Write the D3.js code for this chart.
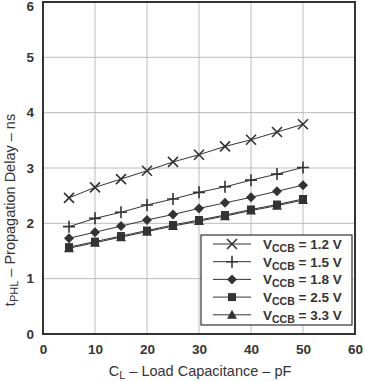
<!DOCTYPE html>
<html><head><meta charset="utf-8">
<script src="https://cdn.jsdelivr.net/npm/d3@7"></script>
<style>body{margin:0;background:#fff}svg{display:block}</style>
</head><body>
<script>
const capacitance = [5,10,15,20,25,30,35,40,45,50];
const v12 = [2.46,2.65,2.80,2.95,3.11,3.24,3.39,3.51,3.65,3.79];
const v15 = [1.94,2.09,2.20,2.33,2.44,2.56,2.66,2.78,2.89,3.01];
const v18 = [1.73,1.84,1.95,2.06,2.16,2.27,2.37,2.47,2.58,2.69];
const v25 = [1.57,1.67,1.77,1.87,1.97,2.06,2.15,2.25,2.34,2.44];
const v33 = [1.55,1.65,1.75,1.85,1.95,2.04,2.13,2.23,2.32,2.42];
const seriesNames = ["1.2","1.5","1.8","2.5","3.3"];
const seriesMarkers = ["x","plus","diamond","square","triangle"];
const xTicks = [0,10,20,30,40,50,60];
const yTicks = [0,1,2,3,4,5,6];

const W=365,H=381;
const m={l:43,r:10,t:2,b:47};
const svg=d3.select("body").append("svg").attr("width",W).attr("height",H);
const x=d3.scaleLinear().domain([0,60]).range([m.l,W-m.r]);
const y=d3.scaleLinear().domain([0,6]).range([H-m.b,m.t]);
const font="'Liberation Sans', Arial, sans-serif";
const dark="#333";

// grid
svg.append("g").selectAll("line.gx").data(xTicks).join("line")
  .attr("x1",d=>x(d)).attr("x2",d=>x(d)).attr("y1",y(0)).attr("y2",y(6))
  .attr("stroke","#bbb").attr("stroke-width",1);
svg.append("g").selectAll("line.gy").data(yTicks).join("line")
  .attr("y1",d=>y(d)).attr("y2",d=>y(d)).attr("x1",x(0)).attr("x2",x(60))
  .attr("stroke","#bbb").attr("stroke-width",1);

// axes labels
const xa=d3.axisBottom(x).tickValues(xTicks).tickFormat(d3.format("d")).tickSize(0).tickPadding(10);
const gx=svg.append("g").attr("transform",`translate(0,${y(0)})`).call(xa);
gx.select(".domain").remove();
gx.selectAll("text").attr("font-family",font).attr("font-weight","bold").attr("font-size",13.5).attr("fill",dark);
const ya=d3.axisLeft(y).tickValues(yTicks).tickFormat(d3.format("d")).tickSize(0).tickPadding(9);
const gy=svg.append("g").attr("transform",`translate(${x(0)},0)`).call(ya);
gy.select(".domain").remove();
gy.selectAll("text").attr("font-family",font).attr("font-weight","bold").attr("font-size",13.5).attr("fill",dark)
  .attr("y",d=>d===6?4:0);

// frame
svg.append("rect").attr("x",x(0)).attr("y",y(6)).attr("width",x(60)-x(0)).attr("height",y(0)-y(6))
  .attr("fill","none").attr("stroke",dark).attr("stroke-width",2);

// series
const allSeries=[v12,v15,v18,v25,v33];
function marker(g,type,cx,cy){
  const c=dark;
  if(type==="x"){
    const s=5;
    g.append("path").attr("d",`M${cx-s},${cy-s}L${cx+s},${cy+s}M${cx-s},${cy+s}L${cx+s},${cy-s}`).attr("stroke",c).attr("stroke-width",1.6).attr("fill","none");
  } else if(type==="plus"){
    const s=6;
    g.append("path").attr("d",`M${cx-s},${cy}L${cx+s},${cy}M${cx},${cy-s}L${cx},${cy+s}`).attr("stroke",c).attr("stroke-width",1.6).attr("fill","none");
  } else if(type==="diamond"){
    const s=5;
    g.append("path").attr("d",`M${cx},${cy-s}L${cx+s},${cy}L${cx},${cy+s}L${cx-s},${cy}Z`).attr("fill",c);
  } else if(type==="square"){
    const s=4;
    g.append("rect").attr("x",cx-s).attr("y",cy-s).attr("width",2*s).attr("height",2*s).attr("fill",c);
  } else {
    const s=5;
    g.append("path").attr("d",`M${cx},${cy-s}L${cx+s},${cy+s*0.8}L${cx-s},${cy+s*0.8}Z`).attr("fill",c);
  }
}
const line=d3.line().x((d,i)=>x(capacitance[i])).y(d=>y(d));
[4,3,2,1,0].forEach(k=>{
  const vals=allSeries[k];
  const g=svg.append("g");
  g.append("path").datum(vals).attr("d",line).attr("fill","none").attr("stroke",dark).attr("stroke-width",1);
  vals.forEach((v,i)=>marker(g,seriesMarkers[k],x(capacitance[i]),y(v)));
});

// legend
const lg=svg.append("g");
lg.append("rect").attr("x",201).attr("y",235).attr("width",151).attr("height",90)
  .attr("fill","#fff").attr("stroke",dark).attr("stroke-width",1.2);
seriesNames.forEach((n,i)=>{
  const cy=244+i*17.7;
  lg.append("line").attr("x1",213).attr("x2",251).attr("y1",cy).attr("y2",cy).attr("stroke",dark).attr("stroke-width",1);
  marker(lg,seriesMarkers[i],232,cy);
  const t=lg.append("text").attr("x",263).attr("y",cy+5).attr("font-family",font).attr("font-weight","bold").attr("font-size",13.5).attr("fill",dark);
  t.append("tspan").text("V");
  t.append("tspan").attr("font-size",10.5).attr("dy",3).text("CCB");
  t.append("tspan").attr("dy",-3).text(` = ${n} V`);
});

// axis titles
const xt=svg.append("text").attr("x",200).attr("y",376).attr("text-anchor","middle")
  .attr("font-family",font).attr("font-size",14.5).attr("fill",dark);
xt.append("tspan").text("C");
xt.append("tspan").attr("font-size",11).attr("dy",3).text("L");
xt.append("tspan").attr("dy",-3).text(" \u2013 Load Capacitance \u2013 pF");

const yt=svg.append("text").attr("transform","translate(15,210) rotate(-90)").attr("text-anchor","middle")
  .attr("font-family",font).attr("font-size",14.5).attr("fill",dark);
yt.append("tspan").text("t");
yt.append("tspan").attr("font-size",11).attr("dy",3).text("PHL");
yt.append("tspan").attr("dy",-3).text(" \u2013 Propagation Delay \u2013 ns");
</script>
</body></html>
